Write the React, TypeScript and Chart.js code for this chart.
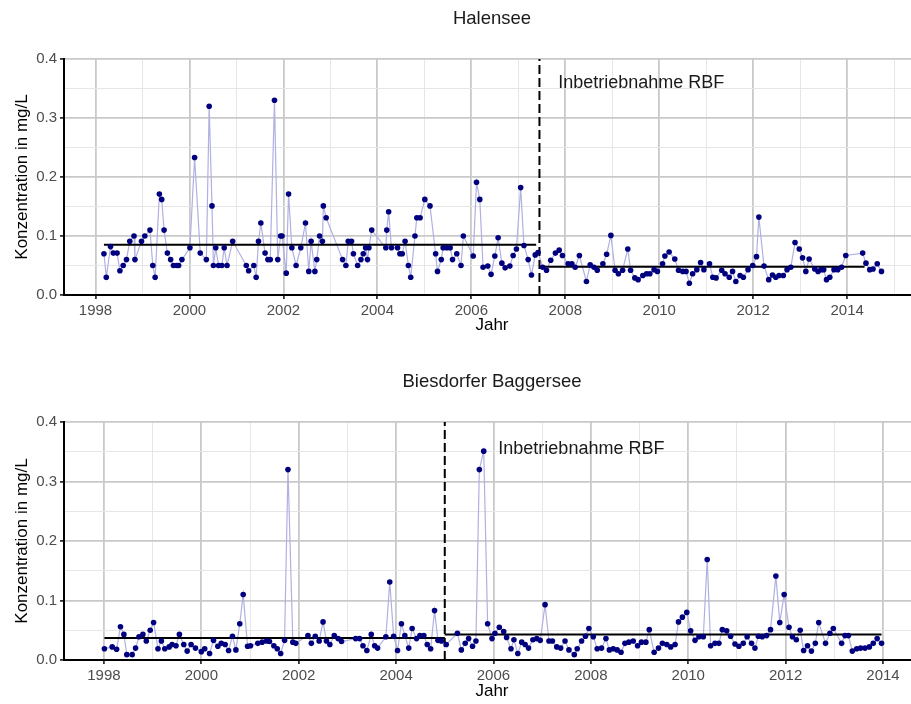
import React, { useEffect, useRef } from "react";
import { Chart, registerables } from "chart.js";
Chart.register(...registerables);

const FONT = '"Liberation Sans", Arial, Helvetica, sans-serif';

// ---------- Halensee ----------
const halenseeYears = [
  1998.18, 1998.23, 1998.32, 1998.38, 1998.46, 1998.52, 1998.59, 1998.66, 1998.73, 1998.82,
  1998.84, 1998.98, 1999.05, 1999.16, 1999.22, 1999.27, 1999.36, 1999.41, 1999.46, 1999.53,
  1999.6, 1999.66, 1999.73, 1999.77, 1999.84, 2000.01, 2000.11, 2000.23, 2000.36, 2000.42,
  2000.48, 2000.51, 2000.56, 2000.62, 2000.69, 2000.74, 2000.8, 2000.92, 2001.21, 2001.26,
  2001.37, 2001.42, 2001.47, 2001.52, 2001.61, 2001.67, 2001.72, 2001.81, 2001.88, 2001.94,
  2001.97, 2002.06, 2002.11, 2002.18, 2002.27, 2002.37, 2002.47, 2002.54, 2002.59, 2002.67,
  2002.71, 2002.77, 2002.83, 2002.85, 2002.91, 2003.26, 2003.33, 2003.38, 2003.45, 2003.49,
  2003.58, 2003.65, 2003.7, 2003.75, 2003.79, 2003.82, 2003.88, 2004.18, 2004.2, 2004.24,
  2004.3, 2004.43, 2004.48, 2004.53, 2004.59, 2004.66, 2004.71, 2004.8, 2004.84, 2004.91,
  2005.01, 2005.12, 2005.24, 2005.28, 2005.36, 2005.4, 2005.48, 2005.55, 2005.6, 2005.69,
  2005.78, 2005.83, 2006.04, 2006.11, 2006.18, 2006.25, 2006.35, 2006.42, 2006.5, 2006.57,
  2006.65, 2006.72, 2006.82, 2006.89, 2006.96, 2007.05, 2007.12, 2007.21, 2007.28, 2007.36,
  2007.42,
  2007.52, 2007.6, 2007.69, 2007.79, 2007.87, 2007.94, 2008.06, 2008.14, 2008.21, 2008.3,
  2008.45, 2008.53, 2008.61, 2008.68, 2008.8, 2008.88, 2008.97, 2009.06, 2009.13, 2009.22,
  2009.33, 2009.39, 2009.48, 2009.55, 2009.65, 2009.73, 2009.8, 2009.89, 2009.96, 2010.07,
  2010.12, 2010.21, 2010.33, 2010.41, 2010.5, 2010.57, 2010.64, 2010.71, 2010.8, 2010.88,
  2010.95, 2011.07, 2011.14, 2011.21, 2011.33, 2011.4, 2011.49, 2011.56, 2011.63, 2011.72,
  2011.79, 2011.89, 2011.99, 2012.07, 2012.12, 2012.23, 2012.33, 2012.41, 2012.48, 2012.55,
  2012.64, 2012.72, 2012.8, 2012.89, 2012.98, 2013.05, 2013.12, 2013.19, 2013.31, 2013.38,
  2013.45, 2013.5, 2013.56, 2013.63, 2013.72, 2013.8, 2013.88, 2013.97, 2014.33, 2014.4,
  2014.48, 2014.55, 2014.64, 2014.73,
];
const halenseeValues = [
  0.07, 0.03, 0.082, 0.071, 0.071, 0.041, 0.05, 0.06, 0.091, 0.1,
  0.06, 0.091, 0.1, 0.11, 0.05, 0.03, 0.171, 0.162, 0.11, 0.071,
  0.06, 0.05, 0.05, 0.05, 0.06, 0.08, 0.233, 0.071, 0.06, 0.32,
  0.151, 0.05, 0.08, 0.05, 0.05, 0.08, 0.05, 0.091, 0.05, 0.041,
  0.05, 0.03, 0.091, 0.122, 0.071, 0.06, 0.06, 0.33, 0.06, 0.1,
  0.1, 0.037, 0.171, 0.08, 0.05, 0.08, 0.122, 0.04, 0.091, 0.04,
  0.06, 0.1, 0.091, 0.151, 0.131, 0.06, 0.05, 0.091, 0.091, 0.07,
  0.05, 0.06, 0.07, 0.08, 0.06, 0.08, 0.11, 0.08, 0.11, 0.141,
  0.08, 0.08, 0.07, 0.07, 0.091, 0.05, 0.03, 0.1, 0.131, 0.131,
  0.162, 0.151, 0.07, 0.04, 0.06, 0.08, 0.08, 0.08, 0.06, 0.07,
  0.05, 0.1, 0.066, 0.191, 0.162, 0.047, 0.049, 0.035, 0.066, 0.097,
  0.054, 0.046, 0.049, 0.067, 0.078, 0.182, 0.084, 0.06, 0.034, 0.068,
  0.072,
  0.047, 0.042, 0.059, 0.071, 0.076, 0.067, 0.053, 0.053, 0.047, 0.067,
  0.023, 0.051, 0.047, 0.042, 0.053, 0.069, 0.101, 0.042, 0.036, 0.042,
  0.078, 0.042, 0.029, 0.026, 0.033, 0.036, 0.036, 0.043, 0.04, 0.053,
  0.066, 0.073, 0.061, 0.042, 0.04, 0.04, 0.02, 0.036, 0.043, 0.055,
  0.043, 0.053, 0.03, 0.029, 0.042, 0.036, 0.03, 0.04, 0.023, 0.033,
  0.03, 0.043, 0.05, 0.065, 0.132, 0.049, 0.026, 0.034, 0.03, 0.033,
  0.033, 0.043, 0.047, 0.089, 0.078, 0.063, 0.04, 0.061, 0.044, 0.04,
  0.043, 0.043, 0.026, 0.03, 0.043, 0.043, 0.047, 0.067, 0.071, 0.054,
  0.043, 0.044, 0.053, 0.04,
];
const halenseeRbfYear = 2007.45;
const halenseeMeanStart = [1998.18, 2007.46];
const halenseeMeanEnd = [2007.38, 2014.37];
const halenseeMeans = [0.085, 0.048];
const halenseeXTicks = [1998, 1999, 2000, 2001, 2002, 2003, 2004, 2005, 2006, 2007, 2008, 2009, 2010, 2011, 2012, 2013, 2014, 2015];
const halenseeXLabels = ["1998", "", "2000", "", "2002", "", "2004", "", "2006", "", "2008", "", "2010", "", "2012", "", "2014", ""];

// ---------- Biesdorfer Baggersee ----------
const biesdorfYears = [
  1998.01, 1998.17, 1998.26, 1998.34, 1998.41, 1998.47, 1998.58, 1998.65, 1998.72, 1998.8,
  1998.87, 1998.95, 1999.02, 1999.11, 1999.18, 1999.25, 1999.34, 1999.4, 1999.48, 1999.55,
  1999.64, 1999.71, 1999.79, 1999.88, 2000.0, 2000.07, 2000.17, 2000.25, 2000.34, 2000.41,
  2000.49, 2000.56, 2000.64, 2000.71, 2000.79, 2000.86, 2000.95, 2001.01, 2001.16, 2001.25,
  2001.34, 2001.4, 2001.49, 2001.56, 2001.63, 2001.71, 2001.78, 2001.88, 2001.94, 2002.19,
  2002.26, 2002.34, 2002.42, 2002.5, 2002.57, 2002.64, 2002.73, 2002.81, 2002.88, 2003.17,
  2003.25, 2003.32, 2003.4, 2003.49, 2003.56, 2003.62, 2003.79, 2003.87, 2003.95, 2004.03,
  2004.11, 2004.18, 2004.26, 2004.33, 2004.42, 2004.49, 2004.57, 2004.64, 2004.71, 2004.79,
  2004.86, 2004.93,
  2005.03, 2005.26, 2005.34, 2005.42, 2005.49, 2005.57, 2005.64, 2005.71, 2005.8, 2005.88,
  2005.97, 2006.03, 2006.12, 2006.21, 2006.27, 2006.36, 2006.42, 2006.5, 2006.58, 2006.65,
  2006.72, 2006.81, 2006.89, 2006.96, 2007.06, 2007.14, 2007.21, 2007.3, 2007.38, 2007.47,
  2007.55, 2007.66, 2007.72, 2007.81, 2007.89, 2007.96, 2008.05, 2008.13, 2008.22, 2008.31,
  2008.38, 2008.46, 2008.54, 2008.62, 2008.7, 2008.78, 2008.87, 2008.96, 2009.04, 2009.13,
  2009.2, 2009.3, 2009.39, 2009.47, 2009.56, 2009.64, 2009.73, 2009.8, 2009.88, 2009.97,
  2010.05, 2010.14, 2010.22, 2010.31, 2010.39, 2010.46, 2010.55, 2010.63, 2010.7, 2010.79,
  2010.87, 2010.96, 2011.04, 2011.13, 2011.21, 2011.3, 2011.37, 2011.44, 2011.52, 2011.61,
  2011.69, 2011.8, 2011.88, 2011.97, 2012.07, 2012.14, 2012.22, 2012.3, 2012.37, 2012.45,
  2012.53, 2012.61, 2012.68, 2012.82, 2012.91, 2012.98, 2013.15, 2013.22, 2013.29, 2013.37,
  2013.46, 2013.54, 2013.63, 2013.72, 2013.8, 2013.88, 2013.97,
];
const biesdorfValues = [
  0.019, 0.022, 0.018, 0.056, 0.043, 0.009, 0.009, 0.02, 0.039, 0.043,
  0.032, 0.05, 0.063, 0.019, 0.032, 0.019, 0.022, 0.026, 0.024, 0.043,
  0.026, 0.015, 0.026, 0.02, 0.014, 0.019, 0.011, 0.033, 0.023, 0.028,
  0.026, 0.016, 0.04, 0.017, 0.061, 0.11, 0.023, 0.024, 0.028, 0.03,
  0.032, 0.031, 0.024, 0.019, 0.011, 0.033, 0.32, 0.03, 0.028, 0.041,
  0.028, 0.04, 0.032, 0.064, 0.032, 0.026, 0.041, 0.036, 0.031, 0.036,
  0.036, 0.024, 0.016, 0.043, 0.024, 0.02, 0.039, 0.131, 0.04, 0.016,
  0.061, 0.041, 0.02, 0.053, 0.036, 0.041, 0.041, 0.026, 0.019, 0.083,
  0.033, 0.032,
  0.026, 0.045, 0.017, 0.028, 0.036, 0.023, 0.032, 0.32, 0.351, 0.061,
  0.036, 0.045, 0.055, 0.048, 0.038, 0.019, 0.034, 0.011, 0.03, 0.026,
  0.02, 0.034, 0.036, 0.033, 0.093, 0.032, 0.032, 0.022, 0.02, 0.032,
  0.017, 0.009, 0.019, 0.032, 0.04, 0.053, 0.039, 0.019, 0.02, 0.036,
  0.017, 0.019, 0.017, 0.013, 0.028, 0.03, 0.032, 0.024, 0.03, 0.03,
  0.051, 0.013, 0.02, 0.028, 0.026, 0.022, 0.026, 0.064, 0.072, 0.08,
  0.049, 0.033, 0.039, 0.039, 0.169, 0.024, 0.028, 0.028, 0.051, 0.049,
  0.04, 0.027, 0.023, 0.028, 0.039, 0.028, 0.02, 0.04, 0.039, 0.041,
  0.051, 0.141, 0.063, 0.11, 0.055, 0.039, 0.034, 0.05, 0.016, 0.024,
  0.015, 0.028, 0.063, 0.028, 0.045, 0.053, 0.028, 0.041, 0.041, 0.015,
  0.019, 0.02, 0.02, 0.022, 0.028, 0.036, 0.028,
];
const biesdorfRbfYear = 2005.0;
const biesdorfMeanStart = [1998.01, 2005.0];
const biesdorfMeanEnd = [2005.0, 2013.97];
const biesdorfMeans = [0.037, 0.043];
const biesdorfXTicks = [1998, 1999, 2000, 2001, 2002, 2003, 2004, 2005, 2006, 2007, 2008, 2009, 2010, 2011, 2012, 2013, 2014];
const biesdorfXLabels = ["1998", "", "2000", "", "2002", "", "2004", "", "2006", "", "2008", "", "2010", "", "2012", "", "2014"];

// ---------- shared ----------
const yTickValues = [0, 0.05, 0.1, 0.15, 0.2, 0.25, 0.3, 0.35, 0.4];
const yTickLabels = ["0.0", "", "0.1", "", "0.2", "", "0.3", "", "0.4"];
const noteText = "Inbetriebnahme RBF";
const yTitle = "Konzentration in mg/L";
const xTitle = "Jahr";

const MAJOR_GRID = "#c9c9c9";
const MINOR_GRID = "#e6e6e6";
const TICK_TEXT = "#4d4d4d";

type Panel = {
  title: string;
  titleY: number;
  years: number[];
  values: number[];
  rbf: number;
  meanStart: number[];
  meanEnd: number[];
  means: number[];
  xTicks: number[];
  xLabels: string[];
  xMin: number;
  xMax: number;
  noteX: number;
  noteY: number;
  padTop: number;
  xAxisH: number;
  xTitlePadBottom: number;
  height: number;
};

const decorPlugin = {
  id: "decor",
  afterDraw(chart: any, _args: any, opts: any) {
    const { ctx, chartArea } = chart;
    ctx.save();
    ctx.fillStyle = "#1a1a1a";
    ctx.font = `18.5px ${FONT}`;
    ctx.textAlign = "center";
    ctx.textBaseline = "middle";
    ctx.fillText(opts.title, (chartArea.left + chartArea.right) / 2, opts.titleY);
    ctx.font = `18px ${FONT}`;
    ctx.textAlign = "left";
    const x = chart.scales.x.getPixelForValue(opts.noteX);
    const y = chart.scales.y.getPixelForValue(opts.noteY);
    ctx.fillText(opts.note, x, y);
    ctx.restore();
  },
};

function buildConfig(p: Panel): any {
  const series = p.years.map((x, i) => ({ x, y: p.values[i] }));
  const meanSets = p.means.map((m, i) => ({
    data: [
      { x: p.meanStart[i], y: m },
      { x: p.meanEnd[i], y: m },
    ],
    showLine: true,
    borderColor: "#000000",
    borderWidth: 2,
    pointRadius: 0,
    order: 1,
  }));
  const xMajor = (i: number) => p.xLabels[i] !== "";
  const yMajor = (i: number) => yTickLabels[i] !== "";
  return {
    type: "scatter",
    data: {
      datasets: [
        {
          data: series,
          showLine: true,
          borderColor: "#b0b0e2",
          borderWidth: 1.2,
          pointRadius: 0,
          order: 2,
        },
        ...meanSets,
        {
          data: [
            { x: p.rbf, y: 0 },
            { x: p.rbf, y: 0.4 },
          ],
          showLine: true,
          borderColor: "#000000",
          borderWidth: 2,
          borderDash: [9, 4],
          pointRadius: 0,
          order: 1,
        },
        {
          data: series,
          showLine: false,
          pointRadius: 2.8,
          pointBackgroundColor: "#00007f",
          pointBorderColor: "#00007f",
          pointBorderWidth: 0,
          order: 0,
        },
      ],
    },
    options: {
      responsive: false,
      animation: false,
      devicePixelRatio: 1,
      layout: { padding: { top: p.padTop, left: 0, right: 5, bottom: 0 } },
      plugins: {
        legend: { display: false },
        tooltip: { enabled: false },
        decor: {
          title: p.title,
          titleY: p.titleY,
          note: noteText,
          noteX: p.noteX,
          noteY: p.noteY,
        },
      },
      scales: {
        x: {
          type: "linear",
          min: p.xMin,
          max: p.xMax,
          afterBuildTicks: (s: any) => {
            s.ticks = p.xTicks.map((v) => ({ value: v }));
          },
          afterFit: (s: any) => {
            s.height = p.xAxisH;
            s.paddingLeft = 0;
            s.paddingRight = 0;
          },
          ticks: {
            autoSkip: false,
            maxRotation: 0,
            padding: 3,
            color: TICK_TEXT,
            font: { family: FONT, size: 15 },
            callback: (_v: any, i: number) => p.xLabels[i],
          },
          grid: {
            color: (c: any) => (xMajor(c.index) ? MAJOR_GRID : MINOR_GRID),
            lineWidth: (c: any) => (xMajor(c.index) ? 1.8 : 1),
            tickColor: (c: any) => (xMajor(c.index) ? "#333333" : "rgba(0,0,0,0)"),
            tickLength: 4,
            drawTicks: true,
          },
          border: { display: true, color: "#000000", width: 2 },
          title: {
            display: true,
            text: xTitle,
            color: "#000000",
            font: { family: FONT, size: 17 },
            padding: { top: 0, bottom: p.xTitlePadBottom },
          },
        },
        y: {
          type: "linear",
          min: 0,
          max: 0.4,
          afterBuildTicks: (s: any) => {
            s.ticks = yTickValues.map((v) => ({ value: v }));
          },
          afterFit: (s: any) => {
            s.width = 64;
            s.paddingTop = 0;
            s.paddingBottom = 0;
          },
          ticks: {
            autoSkip: false,
            padding: 3,
            color: TICK_TEXT,
            font: { family: FONT, size: 15 },
            callback: (_v: any, i: number) => yTickLabels[i],
          },
          grid: {
            color: (c: any) => (yMajor(c.index) ? MAJOR_GRID : MINOR_GRID),
            lineWidth: (c: any) => (yMajor(c.index) ? 1.8 : 1),
            tickColor: (c: any) => (yMajor(c.index) ? "#333333" : "rgba(0,0,0,0)"),
            tickLength: 4,
            drawTicks: true,
          },
          border: { display: true, color: "#000000", width: 2 },
          title: {
            display: true,
            text: yTitle,
            color: "#000000",
            font: { family: FONT, size: 17 },
            padding: { top: 12, bottom: 0 },
          },
        },
      },
    },
    plugins: [decorPlugin],
  };
}

const panels: Panel[] = [
  {
    title: "Halensee",
    titleY: 19,
    years: halenseeYears,
    values: halenseeValues,
    rbf: halenseeRbfYear,
    meanStart: halenseeMeanStart,
    meanEnd: halenseeMeanEnd,
    means: halenseeMeans,
    xTicks: halenseeXTicks,
    xLabels: halenseeXLabels,
    xMin: 1997.33,
    xMax: 2015.55,
    noteX: 2007.85,
    noteY: 0.36,
    padTop: 59,
    xAxisH: 45,
    xTitlePadBottom: 4,
    height: 340,
  },
  {
    title: "Biesdorfer Baggersee",
    titleY: 42,
    years: biesdorfYears,
    values: biesdorfValues,
    rbf: biesdorfRbfYear,
    meanStart: biesdorfMeanStart,
    meanEnd: biesdorfMeanEnd,
    means: biesdorfMeans,
    xTicks: biesdorfXTicks,
    xLabels: biesdorfXLabels,
    xMin: 1997.18,
    xMax: 2014.76,
    noteX: 2006.1,
    noteY: 0.355,
    padTop: 82,
    xAxisH: 44,
    xTitlePadBottom: 2,
    height: 364,
  },
];

function PanelChart({ panel, top }: { panel: Panel; top: number }) {
  const ref = useRef<HTMLCanvasElement | null>(null);
  useEffect(() => {
    if (!ref.current) return;
    const chart = new Chart(ref.current, buildConfig(panel));
    return () => chart.destroy();
  }, [panel]);
  return (
    <canvas
      ref={ref}
      width={925}
      height={panel.height}
      style={{ position: "absolute", left: 0, top, width: 925, height: panel.height }}
    />
  );
}

export default function App() {
  return (
    <div
      style={{
        position: "absolute",
        left: 0,
        top: 0,
        width: 911,
        height: 704,
        overflow: "hidden",
        background: "#ffffff",
      }}
    >
      <PanelChart panel={panels[0]} top={0} />
      <PanelChart panel={panels[1]} top={340} />
    </div>
  );
}
